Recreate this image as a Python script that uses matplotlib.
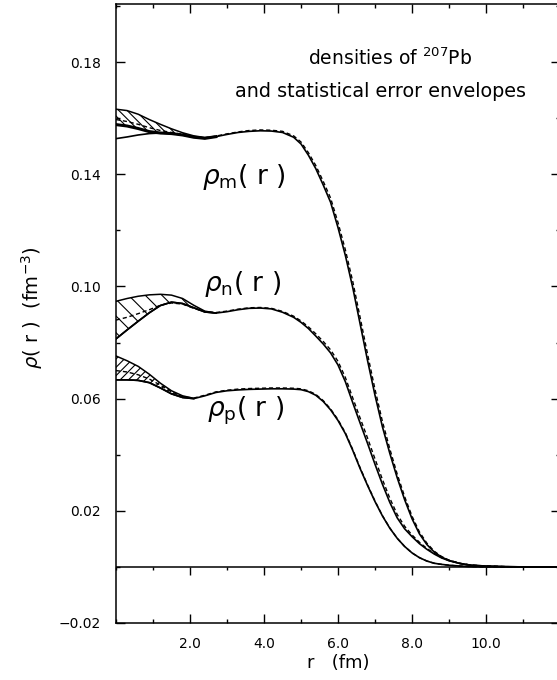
import numpy as np
import matplotlib
matplotlib.use("Agg")
import matplotlib.pyplot as plt
import matplotlib.ticker as ticker

plt.rcParams['font.family'] = ['DejaVu Sans']
plt.rcParams['mathtext.fontset'] = 'dejavusans'
plt.rcParams['hatch.linewidth'] = 0.8

# ---------------- dados ----------------
r_grid = [0, 0.3, 0.6, 0.9, 1.2, 1.5, 1.8, 2.1, 2.4, 2.7, 3.0, 3.3, 3.6, 3.9, 4.2, 4.5,
          4.8, 5.0, 5.2, 5.4, 5.6, 5.8, 6.0, 6.2, 6.4, 6.6, 6.8, 7.0, 7.2, 7.4, 7.6, 7.8,
          8.0, 8.2, 8.4, 8.6, 8.8, 9.0, 9.3, 9.6, 10.0, 10.5, 11.0, 12.0]

# rho_m (matéria)
rho_m = [0.1527, 0.1533, 0.1540, 0.1545, 0.1547, 0.1545, 0.1540, 0.1532, 0.1528, 0.1534,
         0.1542, 0.1549, 0.1553, 0.1555, 0.1554, 0.1549, 0.1532, 0.1508, 0.1468, 0.1420,
         0.1362, 0.1300, 0.1210, 0.1110, 0.0995, 0.0865, 0.0735, 0.0612, 0.0500, 0.0405,
         0.0318, 0.0240, 0.0172, 0.0118, 0.0080, 0.0053, 0.0035, 0.0023, 0.0012, 0.0006,
         0.0003, 0.0001, 0.0, 0.0]
rho_m_dash = [0.1595, 0.1588, 0.1578, 0.1566, 0.1556, 0.1549, 0.1542, 0.1534, 0.1530, 0.1536,
              0.1544, 0.1551, 0.1556, 0.1558, 0.1557, 0.1553, 0.1537, 0.1515, 0.1477, 0.1431,
              0.1375, 0.1315, 0.1228, 0.1130, 0.1017, 0.0888, 0.0758, 0.0633, 0.0519, 0.0421,
              0.0331, 0.0251, 0.0181, 0.0125, 0.0085, 0.0056, 0.0037, 0.0024, 0.0013, 0.0006,
              0.0003, 0.0001, 0.0, 0.0]
r_m_band = [0, 0.3, 0.6, 0.9, 1.2, 1.5, 1.8, 2.1, 2.4, 2.7]
m_upper = [0.1632, 0.1627, 0.1614, 0.1595, 0.1578, 0.1562, 0.1548, 0.1537, 0.1531, 0.1534]
m_lower = [0.1577, 0.1572, 0.1563, 0.1552, 0.1547, 0.1545, 0.1540, 0.1532, 0.1528, 0.1534]

# rho_n (nêutrons)
rho_n = [0.0813, 0.0845, 0.0876, 0.0906, 0.0932, 0.0944, 0.0939, 0.0924, 0.0909, 0.0905,
         0.0910, 0.0917, 0.0922, 0.0923, 0.0920, 0.0908, 0.0890, 0.0872, 0.0850, 0.0823,
         0.0795, 0.0763, 0.0720, 0.0660, 0.0585, 0.0512, 0.0440, 0.0366, 0.0295, 0.0230,
         0.0175, 0.0136, 0.0108, 0.0083, 0.0063, 0.0046, 0.0032, 0.0022, 0.0012, 0.0006,
         0.0003, 0.0001, 0.0, 0.0]
rho_n_dash = [0.0880, 0.0890, 0.0903, 0.0917, 0.0933, 0.0941, 0.0937, 0.0922, 0.0910, 0.0907,
              0.0912, 0.0919, 0.0924, 0.0925, 0.0922, 0.0911, 0.0894, 0.0877, 0.0856, 0.0831,
              0.0804, 0.0774, 0.0733, 0.0675, 0.0602, 0.0530, 0.0459, 0.0385, 0.0312, 0.0245,
              0.0187, 0.0145, 0.0114, 0.0088, 0.0066, 0.0048, 0.0033, 0.0023, 0.0012, 0.0006,
              0.0003, 0.0001, 0.0, 0.0]
r_n_band = [0, 0.3, 0.6, 0.9, 1.2, 1.5, 1.8, 2.1, 2.4, 2.7]
n_upper = [0.0947, 0.0957, 0.0965, 0.0970, 0.0972, 0.0969, 0.0957, 0.0933, 0.0912, 0.0905]
n_lower = [0.0813, 0.0845, 0.0876, 0.0906, 0.0932, 0.0944, 0.0939, 0.0924, 0.0909, 0.0905]

# rho_p (prótons)
rho_p = [0.0667, 0.0667, 0.0665, 0.0657, 0.0638, 0.0617, 0.0604, 0.0600, 0.0610, 0.0622,
         0.0628, 0.0631, 0.0633, 0.0634, 0.0635, 0.0635, 0.0634, 0.0632, 0.0625, 0.0612,
         0.0590, 0.0560, 0.0522, 0.0475, 0.0415, 0.0350, 0.0290, 0.0233, 0.0182, 0.0138,
         0.0102, 0.0073, 0.0050, 0.0033, 0.0021, 0.0013, 0.0009, 0.0006, 0.0003, 0.0001,
         0.0, 0.0, 0.0, 0.0]
rho_p_dash = [0.0700, 0.0695, 0.0685, 0.0670, 0.0648, 0.0624, 0.0607, 0.0602, 0.0612, 0.0624,
              0.0630, 0.0634, 0.0636, 0.0637, 0.0638, 0.0638, 0.0637, 0.0635, 0.0628, 0.0615,
              0.0593, 0.0563, 0.0525, 0.0478, 0.0418, 0.0353, 0.0292, 0.0235, 0.0183, 0.0139,
              0.0102, 0.0073, 0.0050, 0.0033, 0.0021, 0.0013, 0.0009, 0.0006, 0.0003, 0.0001,
              0.0, 0.0, 0.0, 0.0]
r_p_band = [0, 0.3, 0.6, 0.9, 1.2, 1.5, 1.8, 2.1]
p_upper = [0.0752, 0.0735, 0.0715, 0.0687, 0.0655, 0.0628, 0.0610, 0.0601]
p_lower = [0.0667, 0.0667, 0.0665, 0.0657, 0.0638, 0.0617, 0.0604, 0.0600]

x_ticks = [2.0, 4.0, 6.0, 8.0, 10.0]
y_ticks = [-0.02, 0.02, 0.06, 0.10, 0.14, 0.18]

# ---------------- figura ----------------
fig = plt.figure(figsize=(5.57, 6.80), dpi=100)
ax = fig.add_axes([116 / 557, 57 / 680, 444 / 557, 619 / 680])
ax.set_xlim(0, 12)
ax.set_ylim(-0.02, 0.2007)

curvas = [
    (rho_m, rho_m_dash, r_m_band, m_upper, m_lower, '\\\\\\\\', 2.2),
    (rho_n, rho_n_dash, r_n_band, n_upper, n_lower, '\\\\', 1.2),
    (rho_p, rho_p_dash, r_p_band, p_upper, p_lower, '////', 1.2),
]
for sol, tra, rb, up, lo, hatch, lw_lo in curvas:
    ax.fill_between(rb, lo, up, facecolor='none', edgecolor='black', hatch=hatch, linewidth=0)
    ax.plot(rb, up, color='black', linewidth=1.1)
    ax.plot(rb, lo, color='black', linewidth=lw_lo)
    ax.plot(r_grid, sol, color='black', linewidth=1.2)
    ax.plot(r_grid, tra, color='black', linewidth=1.0, linestyle=(0, (3, 2)))

# linha do zero com ticks
ax.axhline(0, color='black', linewidth=1.1)
loc0 = (0 - ax.get_ylim()[0]) / (ax.get_ylim()[1] - ax.get_ylim()[0])
sec = ax.secondary_xaxis(loc0)
sec.spines['bottom'].set_visible(False)
sec.set_xticks(x_ticks)
sec.xaxis.set_minor_locator(ticker.MultipleLocator(1.0))
sec.tick_params(which='major', direction='out', length=5.5, width=1.0, labelbottom=False)
sec.tick_params(which='minor', direction='out', length=2.5, width=1.0)

# eixos
ax.set_xticks(x_ticks)
ax.set_xticklabels([f'{v:.1f}' for v in x_ticks])
ax.xaxis.set_minor_locator(ticker.MultipleLocator(1.0))
ax.set_yticks(y_ticks)
ax.set_yticklabels([f'{v:.2f}'.replace('-', '\u2212') for v in y_ticks])
ax.yaxis.set_minor_locator(ticker.FixedLocator([0.0, 0.04, 0.08, 0.12, 0.16, 0.20]))
ax.tick_params(which='major', direction='in', length=6.5, width=1.0,
               top=True, right=True, labelsize=10, pad=10)
ax.tick_params(which='minor', direction='in', length=3.2, width=1.0, top=True, right=True)
ax.tick_params(axis='y', pad=11)
for s in ax.spines.values():
    s.set_linewidth(1.1)

ax.set_xlabel('r   (fm)', fontsize=13, labelpad=2)
ax.set_ylabel(r'$\rho$( r )  (fm$^{-3}$)', fontsize=14)
ax.yaxis.set_label_coords(-0.16, 0.51)

# textos
ax.text(7.4, 0.1789, r'densities of $^{207}$Pb', fontsize=13.5, ha='center', va='baseline')
ax.text(7.14, 0.1675, 'and statistical error envelopes', fontsize=13.8, ha='center', va='baseline')
ax.text(3.45, 0.1389, r'$\rho_{\rm m}$( r )', fontsize=19, ha='center', va='center')
ax.text(3.43, 0.1007, r'$\rho_{\rm n}$( r )', fontsize=19, ha='center', va='center')
ax.text(3.5, 0.0557, r'$\rho_{\rm p}$( r )', fontsize=19, ha='center', va='center')

fig.savefig('out.png', dpi=100)
